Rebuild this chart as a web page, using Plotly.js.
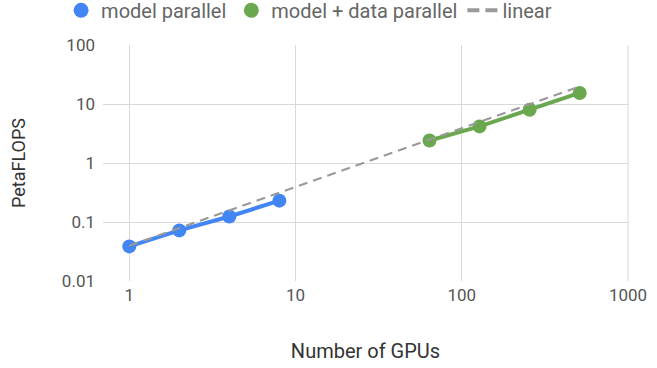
<!DOCTYPE html>
<html><head><meta charset="utf-8">
<script src="https://cdn.plot.ly/plotly-3.0.1.min.js"></script>
<style>html,body{margin:0;padding:0;background:#fff}</style>
</head><body><div id="chart" style="width:657px;height:368px"></div>
<script>
const mpGPUs = [1, 2, 4, 8];
const mpFlops = [0.0386, 0.072, 0.124, 0.23];
const mdpGPUs = [64, 128, 256, 512];
const mdpFlops = [2.41, 4.17, 8.0, 15.4];
const linGPUs = [1, 512];
const linFlops = [0.0395, 19.8];
const xTicks = [1, 10, 100, 1000];
const yTicks = [0.01, 0.1, 1, 10, 100];

const blue = '#4285f4', green = '#6aa84f', gray = '#999999';
const traces = [
  {x: mpGPUs, y: mpFlops, mode: 'lines+markers', line: {color: blue, width: 4}, marker: {color: blue, size: 14}, showlegend: false},
  {x: mdpGPUs, y: mdpFlops, mode: 'lines+markers', line: {color: green, width: 4}, marker: {color: green, size: 14}, showlegend: false},
  {x: linGPUs, y: linFlops, mode: 'lines', line: {color: gray, width: 2, dash: '9px,6px'}, showlegend: false, hoverinfo: 'skip'},
  {x: [null], y: [null], mode: 'markers', name: 'model parallel', marker: {color: blue, size: 15}},
  {x: [null], y: [null], mode: 'markers', name: 'model + data parallel', marker: {color: green, size: 15}},
  {x: [null], y: [null], mode: 'lines', name: 'linear', line: {color: gray, width: 4, dash: '12px,6px'}}
];
const layout = {
  width: 657, height: 368,
  margin: {l: 103, r: 29, t: 45, b: 87, autoexpand: false},
  paper_bgcolor: '#fff', plot_bgcolor: '#fff',
  font: {family: 'Roboto, sans-serif', size: 17, color: '#555'},
  showlegend: true,
  legend: {orientation: 'h', xref: 'container', yref: 'container', x: 0.093, xanchor: 'left', y: 0.972, yanchor: 'middle', font: {size: 20, color: '#666'}, itemwidth: 30, tracegroupgap: 0},
  xaxis: {type: 'log', range: [-0.158, 3], tickvals: xTicks, ticktext: xTicks.map(String), showgrid: true, gridcolor: '#d9d9d9', gridwidth: 1, zeroline: false, showline: false, ticks: '', tickfont: {size: 17, color: '#555'}, ticklabelstandoff: 2,
    title: {text: 'Number of GPUs', font: {size: 20, color: '#333'}, standoff: 39}},
  yaxis: {type: 'log', range: [-2, 2], tickvals: yTicks, ticktext: yTicks.map(String), showgrid: true, gridcolor: '#d9d9d9', gridwidth: 1, zeroline: false, showline: false, ticks: '', tickfont: {size: 17, color: '#555'}, ticklabelstandoff: 7,
    title: {text: 'PetaFLOPS', font: {size: 18, color: '#333'}, standoff: 31}},
  shapes: [{type: 'line', xref: 'paper', yref: 'paper', x0: 1, x1: 1, y0: 0, y1: 1, line: {color: '#d9d9d9', width: 1}}]
};
Plotly.newPlot('chart', traces, layout, {displayModeBar: false, staticPlot: true});
</script></body></html>
